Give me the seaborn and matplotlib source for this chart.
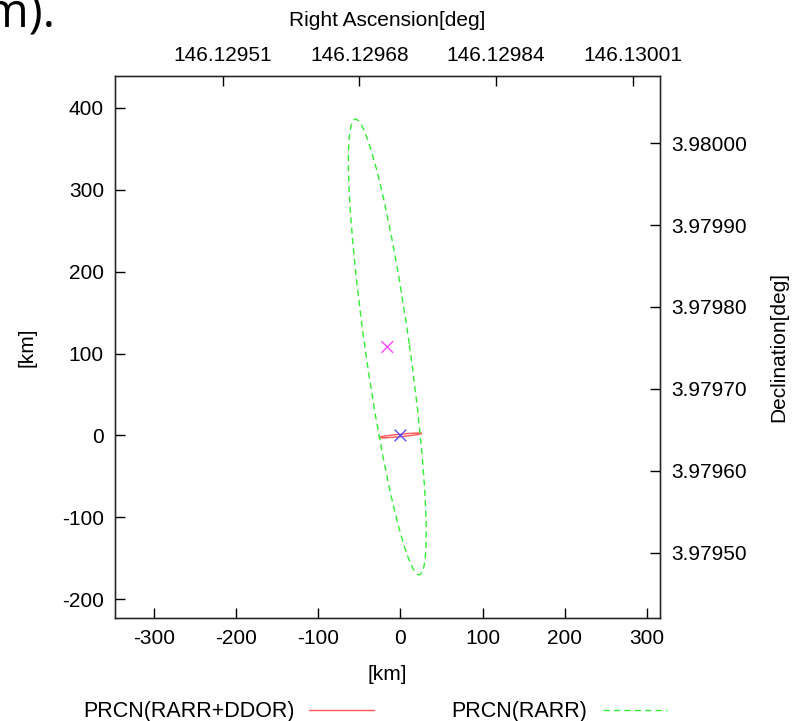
import seaborn as sns
import matplotlib
matplotlib.use("Agg")
import matplotlib.pyplot as plt
from matplotlib.patches import Ellipse
from matplotlib.lines import Line2D
import pandas as pd

# error ellipses: centre (km), semi-axes (km), tilt (deg, ccw from x axis)
names = ["PRCN(RARR+DDOR)", "PRCN(RARR)"]
center_x = [0.0, -16.0]
center_y = [0.0, 108.0]
semi_major = [26.0, 281.0]
semi_minor = [1.5, 27.0]
tilt = [5.5, 98.0]
ellipse_colors = ["#ff5555", "#33ee33"]
center_colors = ["#5050ff", "#ff44ff"]

# axis ranges and extra tick labels
xlim = (-347.5, 316.0)
ylim = (-223.0, 439.0)
km_ticks = [-300, -200, -100, 0, 100, 200, 300]
km_yticks = [-200, -100, 0, 100, 200, 300, 400]
ra_tick_km = [-216, -50, 116, 283]
ra_labels = ["146.12951", "146.12968", "146.12984", "146.13001"]
dec_tick_km = [357, 257, 157, 57, -43, -143]
dec_labels = ["3.98000", "3.97990", "3.97980", "3.97970", "3.97960", "3.97950"]

df = pd.DataFrame({"name": names, "x": center_x, "y": center_y})

sns.set_style("white")
plt.rcParams["font.family"] = ["Liberation Sans", "DejaVu Sans"]
plt.rcParams["axes.unicode_minus"] = False
plt.rcParams["text.color"] = "black"
plt.rcParams["axes.labelcolor"] = "black"
FS = 15

fig = plt.figure(figsize=(8.01, 7.21), dpi=100)
ax = fig.add_axes([115 / 801, 1 - 618 / 721, 545 / 801, 542 / 721])

for i in range(len(names)):
    e = Ellipse((center_x[i], center_y[i]), 2 * semi_major[i], 2 * semi_minor[i],
                angle=tilt[i], fill=False, edgecolor=ellipse_colors[i], lw=1.0,
                linestyle="-" if i == 0 else (0, (4.5, 3)))
    ax.add_patch(e)

sns.scatterplot(data=df, x="x", y="y", hue="name", palette=center_colors,
                marker="x", s=70, linewidth=1.0, legend=False, ax=ax, zorder=5)

ax.set_xlim(*xlim)
ax.set_ylim(*ylim)
ax.set_xticks(km_ticks)
ax.set_yticks(km_yticks)
ax.set_xlabel("[km]", fontsize=FS, labelpad=12)
ax.set_ylabel("[km]", fontsize=FS, labelpad=18)
ax.tick_params(direction="in", length=7, width=1, labelsize=FS, pad=8,
               top=False, right=False, colors="black")
for s in ax.spines.values():
    s.set_linewidth(1.0)
    s.set_color("black")

# top axis: right ascension
axt = ax.twiny()
axt.set_xlim(*xlim)
axt.set_xticks(ra_tick_km)
axt.set_xticklabels(ra_labels)
axt.set_xlabel("Right Ascension[deg]", fontsize=FS, labelpad=14)
axt.tick_params(direction="in", length=7, width=1, labelsize=FS, pad=8,
                colors="black")

# right axis: declination
axr = ax.twinx()
axr.set_ylim(*ylim)
axr.set_yticks(dec_tick_km)
axr.set_yticklabels(dec_labels)
axr.set_ylabel("Declination[deg]", fontsize=FS, labelpad=16)
axr.tick_params(direction="in", length=7, width=1, labelsize=FS, pad=8,
                colors="black")

# legend (gnuplot style: text first, sample after)
handles = [Line2D([], [], color=ellipse_colors[0], lw=1.0),
           Line2D([], [], color=ellipse_colors[1], lw=1.0, linestyle=(0, (4.5, 3)))]
fig.legend(handles, names, loc="center", bbox_to_anchor=(375 / 801, 1 - 712 / 721),
           ncol=2, frameon=False, markerfirst=False, fontsize=FS + 0.5,
           handlelength=3.0, handletextpad=0.7, columnspacing=3.6)

# slide text cut off at the top-left corner
fig.text(55 / 801, 1 - 27 / 721, "m).", fontsize=34, ha="right", va="baseline",
         family=["Open Sans", "DejaVu Sans"])

fig.savefig("out.png", dpi=100)
